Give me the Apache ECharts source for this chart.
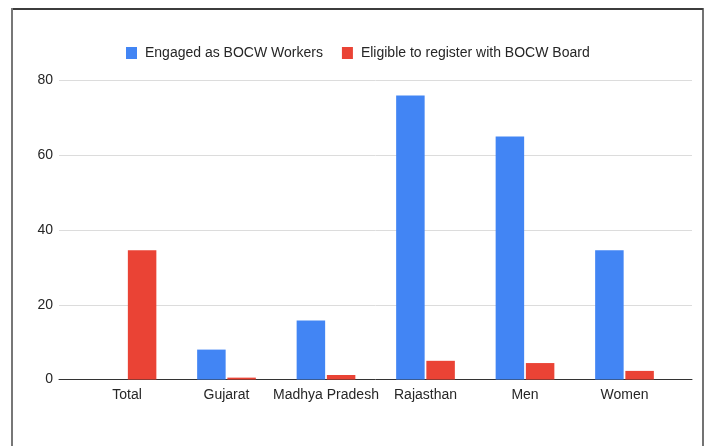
<!DOCTYPE html>
<html>
<head>
<meta charset="utf-8">
<style>
  html, body { margin: 0; padding: 0; background: #fff; }
  #chart { width: 709px; height: 446px; }
</style>
<script src="https://cdn.jsdelivr.net/npm/echarts@6/dist/echarts.min.js"></script>
</head>
<body>
<div id="chart"></div>
<script>
// Categories and values (percent)
const categories = ['Total', 'Gujarat', 'Madhya Pradesh', 'Rajasthan', 'Men', 'Women'];
const engagedWorkers = [null, 8, 15.8, 76, 65, 34.6];
const eligibleToRegister = [34.6, 0.5, 1.2, 5, 4.4, 2.3];
const yTicks = [0, 20, 40, 60, 80];

const FONT = '"Liberation Sans", Arial, sans-serif';
const TEXT = '#262626';

const chart = echarts.init(document.getElementById('chart'), null, { renderer: 'canvas' });

const yMin = yTicks[0], yMax = yTicks[yTicks.length - 1];
const yStep = yTicks[1] - yTicks[0];

chart.setOption({
  animation: false,
  backgroundColor: '#fff',
  textStyle: { fontFamily: FONT },
  legend: {
    left: 121,
    top: 41,
    itemWidth: 11,
    itemHeight: 12,
    itemGap: 19,
    icon: 'rect',
    textStyle: { fontFamily: FONT, fontSize: 14, color: TEXT, padding: [0, 0, 0, 3] },
    data: ['Engaged as BOCW Workers', 'Eligible to register with BOCW Board']
  },
  grid: [
    // wide grid carrying gridlines and the baseline
    { left: 59, right: 17, top: 80.5, bottom: 66.5 },
    // inner grid holding the category bands
    { left: 77.25, right: 34.75, top: 80.5, bottom: 66.5 }
  ],
  xAxis: [
    {
      gridIndex: 0, type: 'value', min: 0, max: 1,
      axisLine: { show: true, onZero: false, lineStyle: { color: '#333', width: 1 } },
      axisTick: { show: false }, axisLabel: { show: false }, splitLine: { show: false }
    },
    {
      gridIndex: 1, type: 'category', data: categories,
      axisLine: { show: false }, axisTick: { show: false },
      axisLabel: { fontFamily: FONT, fontSize: 14, color: TEXT, margin: 9, interval: 0 }
    }
  ],
  yAxis: [
    {
      gridIndex: 0, type: 'value', min: yMin, max: yMax, interval: yStep,
      axisLine: { show: false }, axisTick: { show: false },
      axisLabel: { fontFamily: FONT, fontSize: 14, color: TEXT, margin: 6 },
      splitLine: { lineStyle: { color: '#dcdcdc', width: 1 } }
    },
    {
      gridIndex: 1, type: 'value', min: yMin, max: yMax, interval: yStep,
      axisLine: { show: false }, axisTick: { show: false },
      axisLabel: { show: false }, splitLine: { show: false }
    }
  ],
  series: [
    {
      name: 'Engaged as BOCW Workers', type: 'bar',
      xAxisIndex: 1, yAxisIndex: 1,
      data: engagedWorkers, barWidth: 28.5, barGap: '6%',
      itemStyle: { color: '#4285F4' }
    },
    {
      name: 'Eligible to register with BOCW Board', type: 'bar',
      xAxisIndex: 1, yAxisIndex: 1,
      data: eligibleToRegister, barWidth: 28.5, barGap: '6%',
      itemStyle: { color: '#EA4335' }
    }
  ],
  graphic: [
    // frame around the chart
    { type: 'line', shape: { x1: 12, y1: 9, x2: 703, y2: 9 }, style: { stroke: '#3c3c3c', lineWidth: 2 } },
    { type: 'line', shape: { x1: 12, y1: 8, x2: 12, y2: 446 }, style: { stroke: '#777', lineWidth: 2 } },
    { type: 'line', shape: { x1: 703, y1: 8, x2: 703, y2: 446 }, style: { stroke: '#444', lineWidth: 1.5 } }
  ]
});
</script>
</body>
</html>
